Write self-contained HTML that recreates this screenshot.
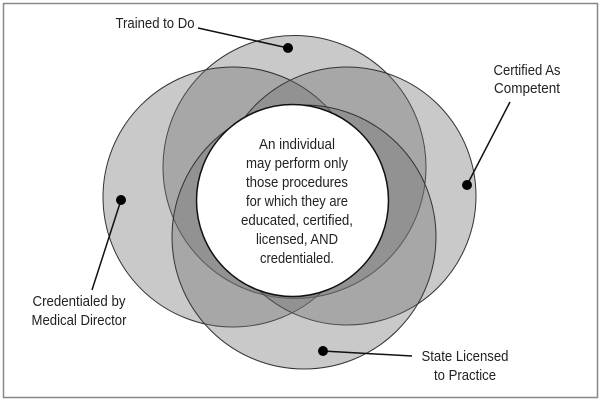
<!DOCTYPE html>
<html><head><meta charset="utf-8"><style>
html,body{margin:0;padding:0;background:#fff;}
svg{display:block;}
text{font-family:"Liberation Sans",sans-serif;fill:#222;}
</style></head><body>
<svg width="600" height="402" viewBox="0 0 600 402" xmlns="http://www.w3.org/2000/svg">
<rect x="3.5" y="3.5" width="594" height="394" fill="#fff" stroke="#888" stroke-width="1.5"/>
<g fill="#707070" fill-opacity="0.38" stroke="#333" stroke-width="1">
<circle cx="294.5" cy="167" r="131.5"/>
<circle cx="233" cy="197" r="130"/>
<circle cx="347" cy="196" r="129"/>
<circle cx="304" cy="237" r="132"/>
</g>
<circle cx="292.5" cy="200.5" r="96" fill="#fff" stroke="#111" stroke-width="1.5"/>
<g stroke="#111" stroke-width="1.5">
<line x1="198" y1="28" x2="288" y2="48"/>
<line x1="510" y1="102" x2="467" y2="185"/>
<line x1="121" y1="200" x2="92" y2="290"/>
<line x1="323" y1="351" x2="412" y2="356"/>
</g>
<g fill="#000">
<circle cx="288" cy="48" r="5"/>
<circle cx="467" cy="185" r="5"/>
<circle cx="121" cy="200" r="5"/>
<circle cx="323" cy="351" r="5"/>
</g>
<g font-size="14.5" text-anchor="middle">
<text x="297" y="149" textLength="76" lengthAdjust="spacingAndGlyphs">An individual</text>
<text x="297" y="168" textLength="102" lengthAdjust="spacingAndGlyphs">may perform only</text>
<text x="297" y="187" textLength="102" lengthAdjust="spacingAndGlyphs">those procedures</text>
<text x="297" y="206" textLength="102" lengthAdjust="spacingAndGlyphs">for which they are</text>
<text x="297" y="225" textLength="112" lengthAdjust="spacingAndGlyphs">educated, certified,</text>
<text x="297" y="244" textLength="82" lengthAdjust="spacingAndGlyphs">licensed, AND</text>
<text x="297" y="263" textLength="74" lengthAdjust="spacingAndGlyphs">credentialed.</text>
</g>
<g font-size="14.5" text-anchor="middle">
<text x="155" y="28" textLength="79" lengthAdjust="spacingAndGlyphs">Trained to Do</text>
<text x="527" y="75" textLength="67" lengthAdjust="spacingAndGlyphs">Certified As</text>
<text x="527" y="93" textLength="66" lengthAdjust="spacingAndGlyphs">Competent</text>
<text x="79" y="306" textLength="93" lengthAdjust="spacingAndGlyphs">Credentialed by</text>
<text x="79" y="325" textLength="95" lengthAdjust="spacingAndGlyphs">Medical Director</text>
<text x="465" y="361" textLength="87" lengthAdjust="spacingAndGlyphs">State Licensed</text>
<text x="465" y="380" textLength="62" lengthAdjust="spacingAndGlyphs">to Practice</text>
</g>
</svg>
</body></html>
